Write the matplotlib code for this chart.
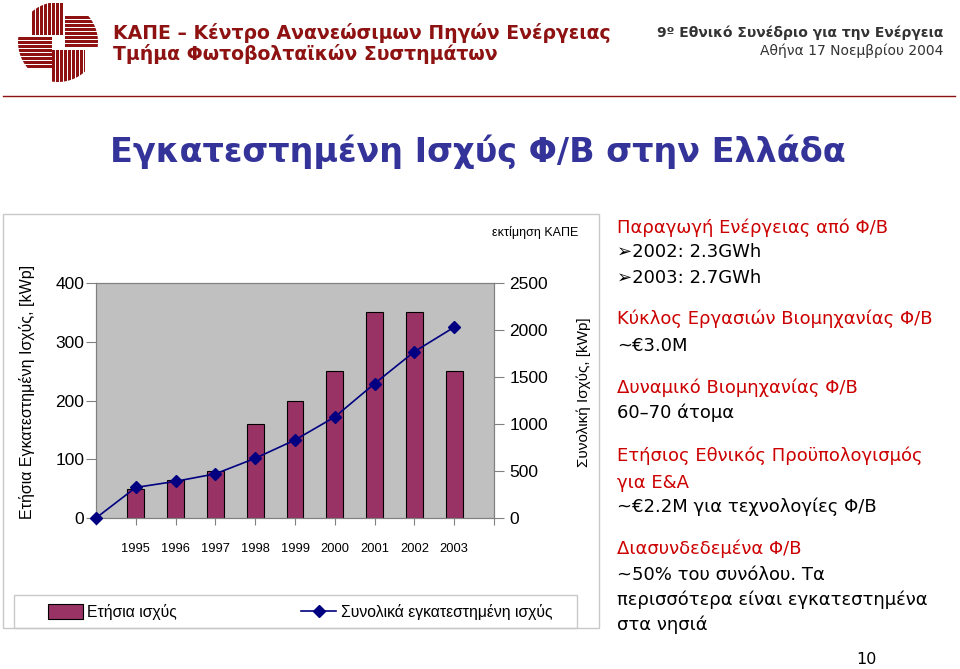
import matplotlib
matplotlib.use('Agg')
import numpy as np
import matplotlib.pyplot as plt
from matplotlib.patches import Rectangle, Circle, Patch
from matplotlib.lines import Line2D

# δεδομένα γραφήματος
years = ['1995', '1996', '1997', '1998', '1999', '2000', '2001', '2002', '2003']
annual_kwp = [50, 65, 80, 160, 200, 250, 350, 350, 250]
# η πρώτη τιμή είναι η κενή κατηγορία πριν το 1995
total_kwp = [0, 325, 390, 470, 635, 830, 1075, 1430, 1770, 2030]
left_ticks = [0, 100, 200, 300, 400]
right_ticks = [0, 500, 1000, 1500, 2000, 2500]

# κείμενα δεξιάς στήλης: (κείμενο, χρώμα, baseline σε px)
RED = '#CC0000'
BLACK = '#000000'
side_lines = [
    ('Παραγωγή Ενέργειας από Φ/Β', RED, 233),
    ('➢2002: 2.3GWh', BLACK, 257),
    ('➢2003: 2.7GWh', BLACK, 283),
    ('Κύκλος Εργασιών Βιομηχανίας Φ/Β', RED, 324),
    ('~€3.0M', BLACK, 351),
    ('Δυναμικό Βιομηχανίας Φ/Β', RED, 393),
    ('60–70 άτομα', BLACK, 418),
    ('Ετήσιος Εθνικός Προϋπολογισμός', RED, 461),
    ('για Ε&Α', RED, 488),
    ('~€2.2M για τεχνολογίες Φ/Β', BLACK, 512),
    ('Διασυνδεδεμένα Φ/Β', RED, 554),
    ('~50% του συνόλου. Τα', BLACK, 580),
    ('περισσότερα είναι εγκατεστημένα', BLACK, 605),
    ('στα νησιά', BLACK, 630),
]

W, H = 960, 669
BAR = '#993366'
NAVY = '#000080'
MAROON = '#8E1212'
GRID = '#808080'
CHART_FONT = 'Liberation Sans'

plt.rcParams['font.family'] = ['DejaVu Sans']


def fx(x):
    return x / W


def fy(y):
    return 1 - y / H


fig = plt.figure(figsize=(W / 100, H / 100), dpi=100)
fig.patch.set_facecolor('white')

# λογότυπο ΚΑΠΕ
logo = fig.add_axes([fx(18), fy(83), fx(80), 80 / H])
logo.set_xlim(-40, 40)
logo.set_ylim(41, -39)
logo.axis('off')
clip = Circle((0, 0), 40, transform=logo.transData)
arms = [
    (-26, 5, -40, -7, 'v'),
    (7, 40, -26, 6, 'h'),
    (-6, 27, 8, 40, 'v'),
    (-40, -6, -5, 26, 'h'),
]
for x0, x1, y0, y1, kind in arms:
    if kind == 'v':
        for s in np.arange(x0, x1, 4.0):
            r = Rectangle((s, y0), min(2.9, x1 - s), y1 - y0, color=MAROON, lw=0)
            logo.add_patch(r)
            r.set_clip_path(clip)
    else:
        for s in np.arange(y0, y1, 4.0):
            r = Rectangle((x0, s), x1 - x0, min(2.9, y1 - s), color=MAROON, lw=0)
            logo.add_patch(r)
            r.set_clip_path(clip)

# κεφαλίδα
fig.text(fx(113), fy(39), 'ΚΑΠΕ – Κέντρο Ανανεώσιμων Πηγών Ενέργειας',
         fontsize=13.6, fontweight='bold', color=MAROON, va='baseline')
fig.text(fx(113), fy(60), 'Τμήμα Φωτοβολταϊκών Συστημάτων',
         fontsize=13.6, fontweight='bold', color=MAROON, va='baseline')
fig.text(fx(943), fy(37), '9º Εθνικό Συνέδριο για την Ενέργεια',
         fontsize=10, fontweight='bold', color='#333333', ha='right', va='baseline')
fig.text(fx(943), fy(55), 'Αθήνα 17 Νοεμβρίου 2004',
         fontsize=10, color='#333333', ha='right', va='baseline')
fig.add_artist(Line2D([fx(3), fx(955)], [fy(96), fy(96)], color=MAROON, lw=1))

# τίτλος
fig.text(fx(478), fy(162), 'Εγκατεστημένη Ισχύς Φ/Β στην Ελλάδα',
         fontsize=24, fontweight='bold', color='#333399', ha='center', va='baseline')

# πλαίσιο γραφήματος και υπομνήματος
fig.patches.append(Rectangle((fx(3), fy(628)), fx(596), 414 / H, transform=fig.transFigure,
                             fill=False, edgecolor='#C8C8C8', lw=1))
fig.patches.append(Rectangle((fx(14), fy(628)), fx(563), 33 / H, transform=fig.transFigure,
                             fill=False, edgecolor='#C8C8C8', lw=1))

# γράφημα
ax = fig.add_axes([fx(96), fy(518), fx(398), 235 / H])
ax.set_facecolor('#C0C0C0')
bar_x = np.arange(1, len(years) + 1)
ax.bar(bar_x, annual_kwp, width=0.42, color=BAR, edgecolor='black', lw=0.8, zorder=2)
ax.set_xlim(0, len(years) + 1)
ax.set_ylim(0, 400)
ax.set_xticks(np.arange(0, len(years) + 2))
ax.set_xticklabels([''] + years + [''], fontfamily=CHART_FONT, fontsize=9.3)
ax.set_yticks(left_ticks)
ax.set_yticklabels([str(v) for v in left_ticks], fontfamily=CHART_FONT, fontsize=12.5)
ax.tick_params(axis='x', length=5, color=GRID, pad=13)
ax.tick_params(axis='y', length=7.5, color=GRID, pad=1)
for sp in ax.spines.values():
    sp.set_color(GRID)
ax.set_ylabel('Ετήσια Εγκατεστημένη Ισχύς, [kWp]', fontfamily=CHART_FONT, fontsize=11.5)
ax.yaxis.set_label_coords(-0.153, 0.536)

ax2 = ax.twinx()
line_x = np.arange(0, len(total_kwp))
ax2.plot(line_x, total_kwp, color=NAVY, lw=1.2, marker='D', ms=6.5, clip_on=False, zorder=3)
ax2.set_ylim(0, 2500)
ax2.set_yticks(right_ticks)
ax2.set_yticklabels([str(v) for v in right_ticks], fontfamily=CHART_FONT, fontsize=12.5)
ax2.tick_params(axis='y', length=7, color=GRID, pad=4)
for sp in ax2.spines.values():
    sp.set_color(GRID)
ax2.set_ylabel('Συνολική Ισχύς, [kWp]', fontfamily=CHART_FONT, fontsize=11)
ax2.yaxis.set_label_coords(1.2085, 0.536)
ax2.text(1.103, 1.217, 'εκτίμηση ΚΑΠΕ', transform=ax2.transAxes, ha='center', va='center',
         fontfamily=CHART_FONT, fontsize=9)

handles = [Patch(facecolor=BAR, edgecolor='black', lw=0.8),
           Line2D([], [], color=NAVY, lw=1.2, marker='D', ms=6.5)]
fig.legend(handles, ['Ετήσια ισχύς', 'Συνολικά εγκατεστημένη ισχύς'],
           loc='center', bbox_to_anchor=(fx(300), fy(612)), ncol=2, frameon=False,
           prop={'family': CHART_FONT, 'size': 11.3}, handlelength=2.23, handleheight=1.05,
           handletextpad=0.3, columnspacing=7.9)

# δεξιά στήλη
for txt, col, base in side_lines:
    fig.text(fx(617), fy(base), txt, fontsize=13, color=col, va='baseline')
fig.text(fx(866), fy(664), '10', fontsize=11.5, ha='center', va='baseline')

fig.savefig('out.png', dpi=100)
